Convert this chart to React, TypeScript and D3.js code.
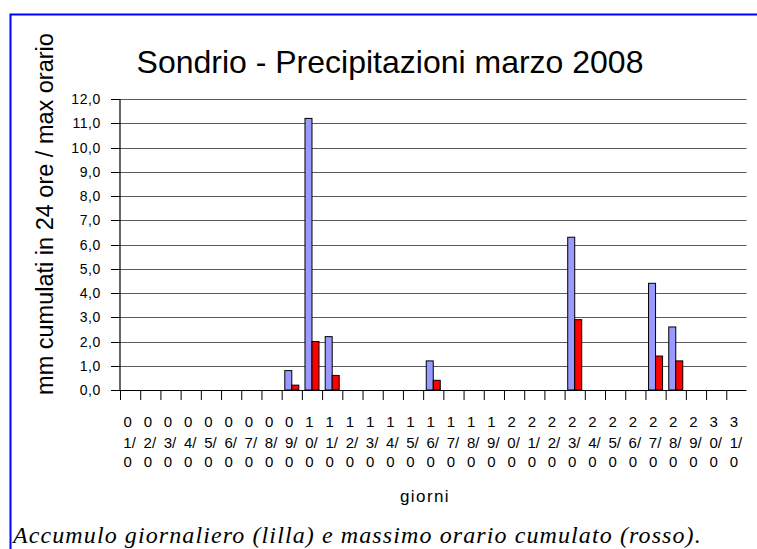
import * as d3 from 'd3';

const dayLabels = [
  '01/0', '02/0', '03/0', '04/0', '05/0', '06/0', '07/0', '08/0', '09/0', '10/0',
  '11/0', '12/0', '13/0', '14/0', '15/0', '16/0', '17/0', '18/0', '19/0', '20/0',
  '21/0', '22/0', '23/0', '24/0', '25/0', '26/0', '27/0', '28/0', '29/0', '30/0', '31/0',
];

// accumulo giornaliero (lilla)
const daily = [
  0, 0, 0, 0, 0, 0, 0, 0, 0.8, 11.2,
  2.2, 0, 0, 0, 0, 1.2, 0, 0, 0, 0,
  0, 0, 6.3, 0, 0, 0, 4.4, 2.6, 0, 0, 0,
];

// massimo orario cumulato (rosso)
const maxHourly = [
  0, 0, 0, 0, 0, 0, 0, 0, 0.2, 2.0,
  0.6, 0, 0, 0, 0, 0.4, 0, 0, 0, 0,
  0, 0, 2.9, 0, 0, 0, 1.4, 1.2, 0, 0, 0,
];

const yTicks = [0, 1, 2, 3, 4, 5, 6, 7, 8, 9, 10, 11, 12];

const seriesKeys = ['daily', 'max'];
const seriesColors = ['#9999FF', '#FF0000'];

const width = 757;
const height = 549;
const plot = { left: 120, right: 746.5, top: 99, bottom: 390 };

export default function App() {
  const x = d3.scaleBand<string>()
    .domain(dayLabels)
    .range([plot.left, plot.right])
    .paddingInner(0)
    .paddingOuter(0);

  const bw = x.bandwidth();
  const inner = d3.scaleBand<string>()
    .domain(seriesKeys)
    .range([3.1, bw - 3.1]);

  const y = d3.scaleLinear().domain([0, 12]).range([plot.bottom, plot.top]);
  const fmt = (v: number) => v.toFixed(1).replace('.', ',');

  const values = [daily, maxHourly];

  return (
    <svg
      width={width}
      height={height}
      style={{ position: 'absolute', left: 0, top: 0, background: '#fff' }}
      fontFamily="'Liberation Sans', Arial, sans-serif"
    >
      <rect x={10.5} y={14.5} width={800} height={600} fill="none" stroke="#0000FF" strokeWidth={2} />

      <text x={390} y={73} textAnchor="middle" fontSize={32} fill="#000">
        Sondrio - Precipitazioni marzo 2008
      </text>

      {/* gridlines */}
      {yTicks.filter(t => t > 0).map(t => (
        <line key={t} x1={plot.left} x2={plot.right} y1={Math.round(y(t)) + 0.5} y2={Math.round(y(t)) + 0.5}
          stroke="#5a5a5a" strokeWidth={1.2} />
      ))}

      {/* bars */}
      {values.map((vals, s) => vals.map((v, i) => (
        <rect
          key={`${s}-${i}`}
          x={(x(dayLabels[i]) || 0) + (inner(seriesKeys[s]) || 0)}
          y={y(v)}
          width={inner.bandwidth()}
          height={plot.bottom - y(v)}
          fill={seriesColors[s]}
          stroke="#000"
          strokeWidth={1}
        />
      )))}

      {/* y axis */}
      <line x1={plot.left} x2={plot.left} y1={plot.top} y2={plot.bottom} stroke="#000" strokeWidth={1.2} />
      {yTicks.map(t => (
        <g key={t} transform={`translate(0,${Math.round(y(t)) + 0.5})`}>
          <line x1={plot.left - 9} x2={plot.left} stroke="#000" strokeWidth={1} />
          <text x={101} dy="0.35em" textAnchor="end" fontSize={14} letterSpacing={0.6} fill="#000">
            {fmt(t)}
          </text>
        </g>
      ))}

      {/* x axis */}
      <line x1={plot.left} x2={plot.right} y1={plot.bottom + 0.5} y2={plot.bottom + 0.5} stroke="#000" strokeWidth={1.2} />
      {dayLabels.map(d => (
        <line key={d} x1={(x(d) || 0) + 0.5} x2={(x(d) || 0) + 0.5} y1={plot.bottom} y2={plot.bottom + 10}
          stroke="#000" strokeWidth={1} />
      ))}
      {dayLabels.map(d => {
        const cx = (x(d) || 0) + bw / 2;
        const lines = [d[0], d.slice(1, 3), d[3]];
        return (
          <g key={d} fontSize={15} fill="#000">
            <text x={cx - 2.5} y={427} textAnchor="middle">{lines[0]}</text>
            <text x={cx - 0.5} y={447.5} textAnchor="middle">{lines[1]}</text>
            <text x={cx - 2.5} y={467} textAnchor="middle">{lines[2]}</text>
          </g>
        );
      })}

      <text x={425} y={502} textAnchor="middle" fontSize={17} letterSpacing={1.4} fill="#000">giorni</text>

      <text transform="translate(53,214) rotate(-90)" textAnchor="middle" fontSize={23.5} fill="#000">
        mm cumulati in 24 ore / max orario
      </text>

      <text x={13} y={543} fontFamily="'Liberation Serif', 'Times New Roman', serif" fontStyle="italic"
        fontSize={24} letterSpacing={1.1} fill="#000">
        Accumulo giornaliero (lilla) e massimo orario cumulato (rosso).
      </text>
    </svg>
  );
}
